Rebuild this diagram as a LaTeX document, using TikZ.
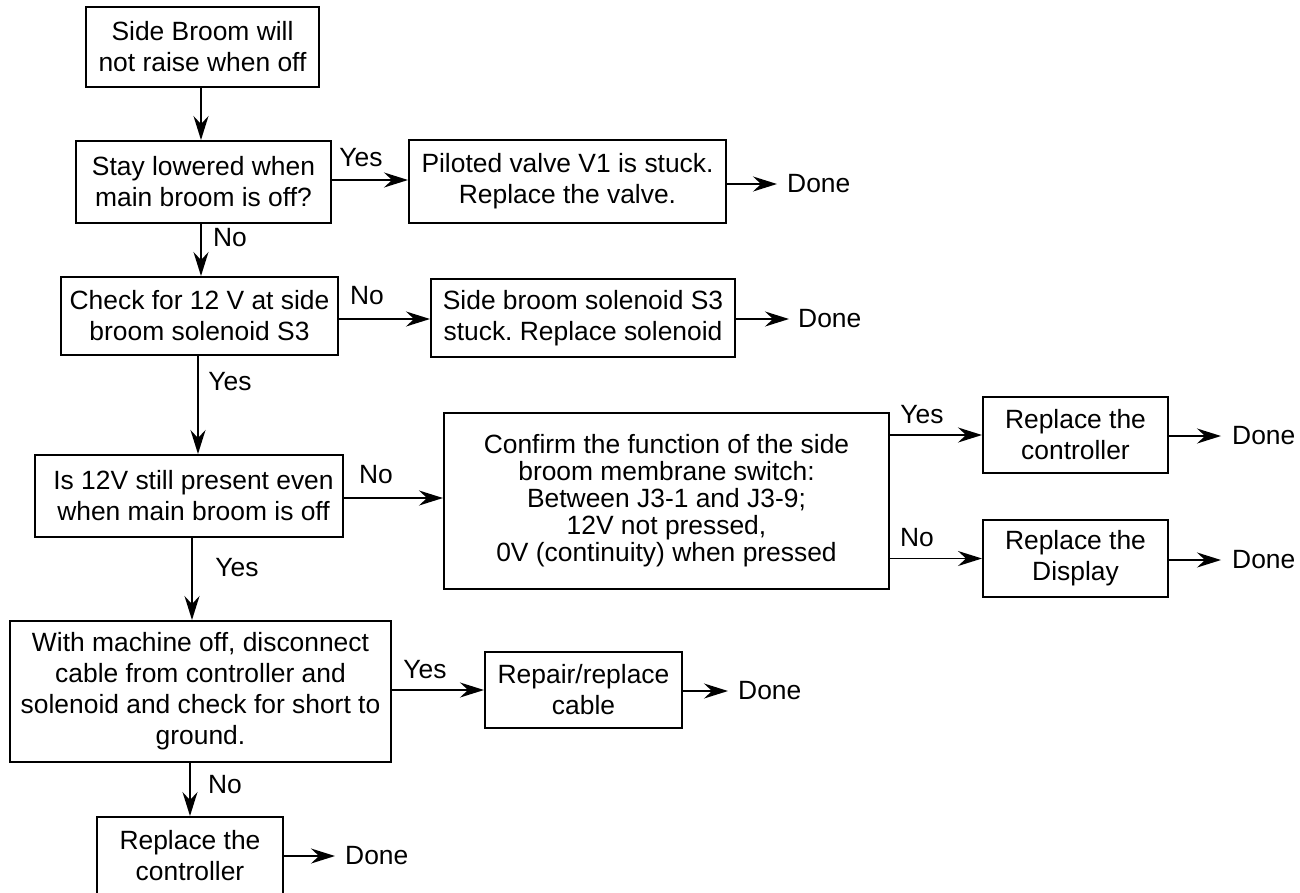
\documentclass[tikz,border=0pt]{standalone}
\usepackage{fontspec}
\setmainfont{Liberation Sans}
\usetikzlibrary{arrows.meta}
\frenchspacing
\tikzset{
  boxnode/.style={draw, line width=2pt, rectangle, inner sep=0pt, align=center,
    font=\fontsize{26.4}{31}\selectfont},
  donenode/.style={inner sep=0pt, anchor=west, font=\fontsize{26.4}{31}\selectfont},
  lbl/.style={inner sep=0pt, font=\fontsize{26.4}{31}\selectfont},
  conn/.style={line width=1.8pt, -{Stealth[length=24pt, width=15pt, inset=8pt]}},
}
\begin{document}
\frenchspacing
\begin{tikzpicture}[x=1pt, y=-1pt]
\useasboundingbox (0,0) rectangle (1300,892);
% boxes
\node[boxnode, minimum width=233pt, minimum height=80pt] (start) at (202.5,47) {Side Broom will\\not raise when off};
\node[boxnode, minimum width=255pt, minimum height=82pt] (q1) at (203.5,182) {Stay lowered when\\main broom is off?};
\node[boxnode, minimum width=317pt, minimum height=83pt] (piloted) at (567.5,181.5) {Piloted valve V1 is stuck.\\Replace the valve.};
\node[boxnode, minimum width=277pt, minimum height=78pt] (check) at (199.5,316) {Check for 12 V at side\\broom solenoid S3};
\node[boxnode, minimum width=304pt, minimum height=78pt] (side) at (583,318) {Side broom solenoid S3\\stuck. Replace solenoid};
\node[boxnode, minimum width=308pt, minimum height=82pt] (is12) at (189,496) {\hspace*{9pt}Is 12V still present even\\\hspace*{9pt}when main broom is off};
\node[boxnode, minimum width=445pt, minimum height=176pt, font=\fontsize{26.4}{27}\selectfont] (confirm) at (666.5,501) {Confirm the function of the side\\broom membrane switch:\\Between J3-1 and J3-9;\\12V not pressed,\\0V (continuity) when pressed};
\node[boxnode, minimum width=185pt, minimum height=76pt] (rc1) at (1075.5,435) {Replace the\\controller};
\node[boxnode, minimum width=185pt, minimum height=77pt] (disp) at (1075.5,558.5) {Replace the\\Display};
\node[boxnode, minimum width=381pt, minimum height=141pt] (with) at (200.5,691.5) {With machine off, disconnect\\cable from controller and\\solenoid and check for short to\\ground.};
\node[boxnode, minimum width=197pt, minimum height=76pt] (repair) at (583.5,690) {Repair/replace\\cable};
\node[boxnode, minimum width=186pt, minimum height=78pt] (rc2) at (190,856) {Replace the\\controller};
% done nodes
\node[donenode] (done1) at (787,184) {Done};
\node[donenode] (done2) at (798,319) {Done};
\node[donenode] (done3) at (1232,436) {Done};
\node[donenode] (done4) at (1232,560) {Done};
\node[donenode] (done5) at (738,691) {Done};
\node[donenode] (done6) at (345,856) {Done};
% connectors
\draw[conn] ([xshift=-1.5pt]start.south) -- ([xshift=-1.5pt]start.south |- q1.north);
\draw[conn] ([yshift=2pt]q1.east) -- ([yshift=2pt]q1.east -| piloted.west);
\draw[conn] ([xshift=-2.5pt]q1.south) -- ([xshift=-2.5pt]q1.south |- check.north);
\draw[conn] ([yshift=-3pt]check.east) -- ([yshift=-3pt]check.east -| side.west);
\draw[conn] ([xshift=-1.5pt]check.south) -- ([xshift=-1.5pt]check.south |- is12.north);
\draw[conn] ([yshift=-2pt]is12.east) -- ([yshift=-2pt]is12.east -| confirm.west);
\draw[conn] (confirm.east |- rc1.west) -- (rc1.west);
\draw[conn] (confirm.east |- disp.west) -- (disp.west);
\draw[conn] ([xshift=3pt]is12.south) -- ([xshift=3pt]is12.south |- with.north);
\draw[conn] (with.east |- repair.west) -- (repair.west);
\draw[conn] (rc2.north |- with.south) -- (rc2.north);
\draw[conn, shorten >=10pt] (piloted.east |- done1.west) -- (done1.west);
\draw[conn, shorten >=9pt] (side.east |- done2.west) -- (done2.west);
\draw[conn, shorten >=11pt] (rc1.east |- done3.west) -- (done3.west);
\draw[conn, shorten >=11pt] (disp.east |- done4.west) -- (done4.west);
\draw[conn, shorten >=10pt] (repair.east |- done5.west) -- (done5.west);
\draw[conn, shorten >=10pt] (rc2.east |- done6.west) -- (done6.west);
% labels
\node[lbl] (l1) at (361,158) {Yes};
\node[lbl] (l2) at (230,238) {No};
\node[lbl] (l3) at (367,296) {No};
\node[lbl] (l4) at (230,382) {Yes};
\node[lbl] (l5) at (376,475) {No};
\node[lbl] (l6) at (922,415) {Yes};
\node[lbl] (l7) at (917,538) {No};
\node[lbl] (l8) at (237,568) {Yes};
\node[lbl] (l9) at (425,670) {Yes};
\node[lbl] (l10) at (225,785) {No};
\end{tikzpicture}
\end{document}
